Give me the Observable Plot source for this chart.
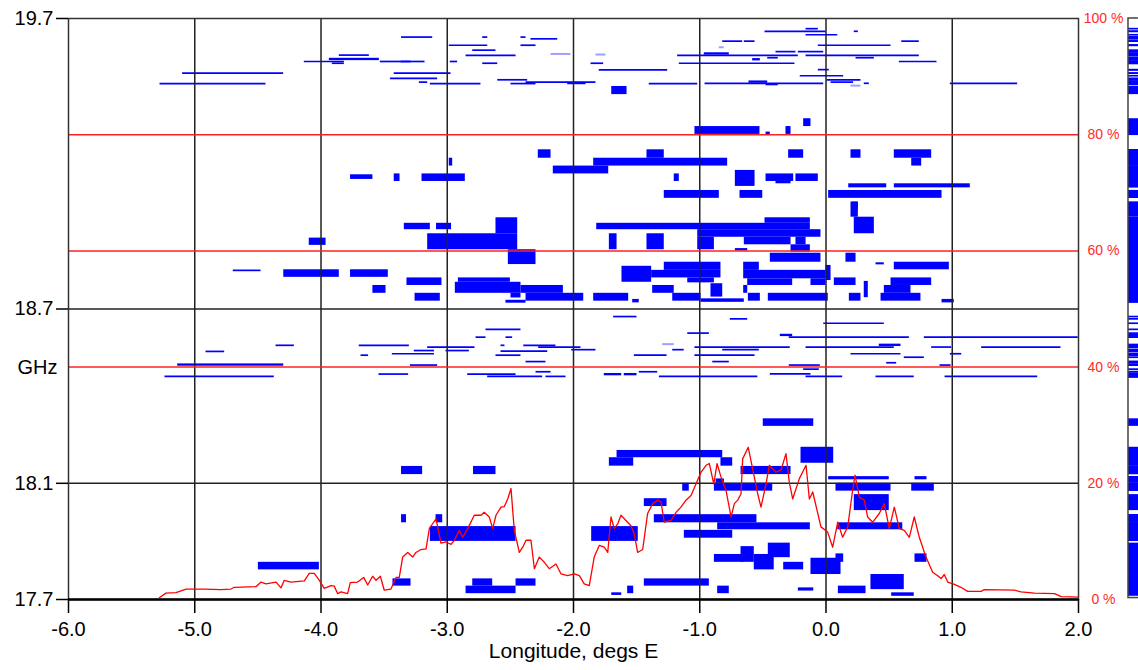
<!DOCTYPE html>
<html>
<head>
<meta charset="utf-8">
<script src="https://cdn.jsdelivr.net/npm/d3@7"></script>
<script src="https://cdn.jsdelivr.net/npm/@observablehq/plot@0.6"></script>
<style>
  html, body { margin: 0; padding: 0; background: #fff; overflow: hidden; }
  #chart { width: 1138px; height: 670px; }
</style>
</head>
<body>
<div id="chart"></div>
<script>
// Longitude ticks (degs E) and frequency ticks (GHz)
const lonTicks = [-6, -5, -4, -3, -2, -1, 0, 1, 2];
const ghzTicks = [17.7, 18.1, 18.7, 19.7];
const pctTicks = [0, 20, 40, 60, 80, 100];
const pctLines = [40, 60, 80];

// Wide carriers: [lon1, lon2, f1 GHz, f2 GHz]
const wideCarriers = [
  [-3.766,-3.589,19.146,19.162],[-3.420,-3.374,19.139,19.165],[-1.697,-1.576,19.438,19.466],
  [-1.038,-0.523,19.301,19.328],[-2.279,-2.178,19.219,19.248],[-1.418,-1.281,19.219,19.248],
  [-1.840,-0.779,19.192,19.219],[-2.160,-1.721,19.165,19.192],[-2.984,-2.957,19.192,19.219],
  [-3.200,-2.857,19.139,19.165],[-1.202,-1.162,19.139,19.165],[-0.718,-0.562,19.122,19.177],
  [-1.281,-0.845,19.081,19.108],[-0.681,-0.501,19.081,19.108],[-0.177,-0.119,19.328,19.355],
  [-0.475,-0.441,19.297,19.309],[-0.317,-0.277,19.301,19.328],[-0.296,-0.177,19.219,19.248],
  [0.198,0.277,19.219,19.248],[0.541,0.837,19.219,19.248],[0.679,0.758,19.192,19.219],
  [-0.475,-0.256,19.139,19.165],[-0.396,-0.277,19.131,19.139],[-0.238,-0.061,19.139,19.165],
  [0.180,0.481,19.117,19.131],[0.541,1.143,19.117,19.131],[0.021,0.919,19.081,19.108],
  [0.204,0.256,19.039,19.068],
  [-4.093,-3.960,18.919,18.944],[-3.340,-3.134,18.973,18.995],[-4.295,-3.855,18.809,18.835],
  [-3.766,-3.467,18.809,18.835],[-3.589,-3.485,18.754,18.781],[-3.319,-3.042,18.781,18.807],
  [-3.085,-2.966,18.973,18.995],[-2.614,-2.442,18.959,19.014],[-3.155,-2.442,18.904,18.959],
  [-2.516,-2.297,18.853,18.904],[-1.816,-0.124,18.973,18.995],[-0.483,-0.124,18.995,19.014],
  [-1.016,-0.040,18.947,18.973],[-0.647,-0.277,18.921,18.947],[-0.238,-0.158,18.921,18.947],
  [-0.277,-0.124,18.896,18.921],[-1.016,-0.884,18.904,18.947],[-1.716,-1.655,18.904,18.959],
  [-1.418,-1.281,18.904,18.959],[-0.718,-0.620,18.900,18.908],[-1.616,-1.381,18.792,18.847],
  [-1.381,-0.832,18.807,18.833],[-1.281,-0.832,18.833,18.861],[-1.095,-0.884,18.790,18.807],
  [-1.373,-1.202,18.754,18.781],[-1.214,-0.990,18.727,18.754],[-0.990,-0.647,18.723,18.735],
  [-0.911,-0.818,18.741,18.787],[-0.652,-0.528,18.833,18.861],[-1.840,-1.563,18.727,18.754],
  [-1.531,-1.479,18.721,18.733],[-3.255,-3.055,18.727,18.754],[-2.912,-2.500,18.792,18.807],
  [-2.936,-2.416,18.754,18.792],[-2.495,-2.416,18.738,18.754],[-2.416,-2.080,18.754,18.781],
  [-2.376,-1.919,18.727,18.754],[-2.535,-2.376,18.720,18.730],[0.198,0.256,19.016,19.068],
  [0.224,0.383,18.959,19.016],[0.158,0.238,18.861,18.892],[-0.441,-0.040,18.861,18.892],
  [0.396,0.462,18.852,18.859],[0.541,0.977,18.835,18.861],[-0.652,0.000,18.804,18.833],
  [0.000,0.040,18.798,18.850],[-0.620,-0.264,18.781,18.804],[-0.119,0.000,18.781,18.804],
  [0.066,0.238,18.781,18.807],[0.303,0.335,18.739,18.795],[0.515,0.837,18.781,18.807],
  [0.462,0.673,18.754,18.781],[0.436,0.752,18.727,18.754],[-0.615,-0.520,18.727,18.754],
  [-0.457,0.018,18.727,18.754],[0.185,0.277,18.727,18.754],[0.919,1.016,18.721,18.733],
  [-0.652,-0.620,18.754,18.781],
  [-3.362,-3.195,18.130,18.158],[-3.362,-3.323,17.964,17.992],[-4.496,-4.013,17.802,17.828],
  [-3.430,-3.287,17.746,17.771],[-2.792,-2.614,18.130,18.158],[-3.089,-3.036,17.964,17.992],
  [-3.134,-2.455,17.900,17.951],[-2.798,-2.640,17.746,17.771],[-2.851,-2.455,17.720,17.746],
  [-2.455,-2.297,17.746,17.771],[-1.856,-1.487,17.900,17.951],[-1.655,-0.818,18.188,18.213],
  [-1.716,-1.523,18.159,18.188],[-0.832,-0.739,18.159,18.188],[-1.135,-1.083,18.073,18.100],
  [-1.439,-1.259,18.020,18.047],[-1.360,-0.547,17.964,17.992],[-1.122,-0.739,17.911,17.938],
  [-0.858,-0.124,17.940,17.964],[-0.884,-0.652,17.828,17.855],[-1.439,-0.924,17.746,17.771],
  [-1.571,-1.523,17.720,17.746],[-1.697,-1.618,17.714,17.723],[-0.858,-0.766,17.720,17.746],
  [-0.497,-0.097,18.296,18.322],[-0.198,0.061,18.169,18.224],[-0.673,-0.277,18.130,18.158],
  [-0.884,-0.422,18.073,18.100],[-0.871,-0.805,18.100,18.115],[0.021,0.501,18.112,18.123],
  [0.705,0.800,18.112,18.123],[0.079,0.515,18.073,18.100],[0.679,0.858,18.073,18.100],
  [0.224,0.501,18.006,18.061],[0.093,0.608,17.940,17.964],[-0.673,-0.568,17.828,17.882],
  [-0.457,-0.283,17.844,17.894],[-0.568,-0.410,17.802,17.855],[-0.335,-0.177,17.802,17.828],
  [-0.119,0.119,17.786,17.842],[0.079,0.140,17.828,17.857],[0.705,0.800,17.828,17.857],
  [-0.219,-0.097,17.729,17.740],[0.098,0.317,17.720,17.746],[0.356,0.620,17.734,17.786],
  [0.520,0.699,17.711,17.723],
  // thicker narrow carriers
  [-3.934,-3.538,19.555,19.563],[-2.046,-1.901,19.472,19.480],[-0.964,-0.766,19.574,19.582],
  [-0.581,-0.520,19.554,19.562],[-0.610,-0.462,19.477,19.485],[-5.135,-4.295,18.503,18.511],
  [-1.756,-1.618,18.470,18.478],[-1.598,-1.497,18.470,18.478],[-0.362,-0.264,18.605,18.613],
  [0.422,0.594,18.571,18.579]
];

// Narrow carriers: [lon1, lon2, f GHz]
const narrowCarriers = [
  [-5.096,-4.296,19.512],[-5.275,-4.436,19.476],[-4.132,-3.815,19.552],[-3.910,-3.815,19.546],
  [-3.855,-3.617,19.574],[-3.530,-3.287,19.552],[-3.362,-3.115,19.636],[-3.420,-2.970,19.512],
  [-3.450,-3.076,19.494],[-2.719,-2.679,19.636],[-2.416,-2.376,19.636],[-2.337,-2.125,19.630],
  [-2.984,-2.679,19.608],[-2.416,-2.297,19.608],[-2.798,-2.614,19.591],[-2.851,-2.455,19.573],
  [-3.366,-3.176,19.552],[-2.976,-2.918,19.552],[-2.719,-2.600,19.546],[-3.221,-3.155,19.481],
  [-3.134,-2.733,19.476],[-2.600,-2.363,19.489],[-2.495,-2.297,19.476],[-2.376,-1.822,19.481],
  [-1.861,-1.761,19.546],[-1.796,-1.254,19.523],[-1.400,-1.016,19.476],[-0.958,-0.018,19.477],
  [-1.175,-0.219,19.573],[-0.158,0.739,19.573],[-1.162,-0.246,19.546],[-0.818,-0.660,19.622],
  [-0.647,-0.562,19.622],[-0.158,-0.061,19.665],[-0.483,0.000,19.656],[0.224,0.256,19.656],
  [-0.158,0.093,19.644],[0.600,0.739,19.622],[-0.061,0.515,19.608],[-0.396,-0.238,19.586],
  [-0.219,-0.018,19.586],[-0.462,-0.378,19.565],[0.238,0.383,19.565],[0.581,0.879,19.552],
  [-0.061,0.026,19.524],[-0.204,0.140,19.503],[0.008,0.277,19.489],[-0.475,-0.378,19.473],
  [0.040,0.219,19.481],[0.303,0.343,19.477],[0.985,1.518,19.477],[-4.695,-4.475,18.833],
  [-4.356,-4.211,18.575],[-4.911,-4.763,18.554],[-5.236,-4.370,18.468],[-3.697,-3.300,18.575],
  [-3.683,-3.623,18.541],[-3.435,-3.101,18.546],[-3.541,-3.306,18.476],[-1.682,-1.497,18.674],
  [-0.758,-0.620,18.666],[-2.693,-2.416,18.630],[-1.095,-0.924,18.617],[-2.772,-2.693,18.603],
  [-2.535,-2.482,18.603],[-3.155,-2.780,18.569],[-2.574,-2.543,18.575],[-2.394,-2.139,18.575],
  [-2.276,-1.941,18.569],[-3.261,-3.101,18.557],[-3.010,-2.825,18.557],[-2.574,-2.204,18.555],
  [-2.014,-1.822,18.560],[-1.214,-1.123,18.560],[-1.038,-0.283,18.569],[-0.818,-0.528,18.560],
  [-2.614,-2.416,18.541],[-1.518,-1.259,18.541],[-1.038,-0.562,18.541],[-2.376,-2.218,18.519],
  [-0.897,-0.766,18.519],[-3.292,-3.076,18.507],[-2.838,-2.455,18.476],[-2.680,-2.244,18.468],
  [-2.297,-2.178,18.484],[-2.218,-2.059,18.468],[-1.479,-1.333,18.484],[-1.320,-0.540,18.468],
  [-0.018,0.462,18.651],[-0.291,0.660,18.603],[0.779,1.998,18.603],[-0.158,0.541,18.569],
  [0.837,0.996,18.569],[1.233,1.861,18.569],[0.198,0.594,18.546],[0.620,0.779,18.534],
  [0.985,1.075,18.546],[0.481,0.560,18.515],[-0.291,-0.045,18.507],[-0.177,-0.053,18.493],
  [0.903,0.990,18.507],[-0.441,-0.119,18.477],[-0.158,0.132,18.468],[0.396,0.699,18.468],
  [0.943,1.677,18.468]
];

// Faint (partial) carriers: [lon1, lon2, f GHz]
const faintCarriers = [
  [-2.178,-2.020,19.578],[-1.822,-1.743,19.576],[-0.845,-0.806,19.601],[0.198,0.277,19.469],
  [-1.293,-1.202,18.579]
];

// Occupancy curve: longitude (degs E) and percent
const curveLon = [-5.281,-5.228,-5.149,-5.069,-4.924,-4.792,-4.713,-4.687,-4.515,-4.475,
  -4.436,-4.356,-4.317,-4.291,-4.238,-4.132,-4.093,-4.053,-4.013,-3.974,
  -3.921,-3.895,-3.868,-3.842,-3.789,-3.768,-3.710,-3.662,-3.630,-3.591,
  -3.564,-3.530,-3.499,-3.446,-3.406,-3.380,-3.353,-3.313,-3.274,-3.248,
  -3.208,-3.168,-3.142,-3.089,-3.050,-3.010,-2.970,-2.944,-2.905,-2.878,
  -2.838,-2.786,-2.733,-2.707,-2.667,-2.640,-2.614,-2.574,-2.548,-2.521,
  -2.495,-2.469,-2.429,-2.402,-2.376,-2.337,-2.310,-2.271,-2.231,-2.192,
  -2.139,-2.099,-2.046,-1.994,-1.954,-1.915,-1.875,-1.836,-1.796,-1.756,
  -1.729,-1.703,-1.677,-1.650,-1.624,-1.598,-1.545,-1.519,-1.492,-1.452,
  -1.413,-1.373,-1.333,-1.307,-1.281,-1.228,-1.188,-1.149,-1.109,-1.069,
  -1.030,-0.990,-0.950,-0.924,-0.889,-0.863,-0.832,-0.792,-0.752,-0.726,
  -0.699,-0.673,-0.660,-0.616,-0.581,-0.541,-0.515,-0.475,-0.449,-0.396,
  -0.356,-0.317,-0.291,-0.264,-0.211,-0.158,-0.132,-0.105,-0.040,0.013,
  0.053,0.093,0.132,0.172,0.211,0.230,0.264,0.303,0.330,0.370,
  0.422,0.462,0.501,0.541,0.581,0.620,0.660,0.699,0.739,0.792,
  0.845,0.885,0.911,0.937,0.964,1.017,1.069,1.122,1.228,1.254,
  1.492,1.545,1.651,1.810,1.863,1.996];
const curvePct = [0.3,1.1,1.2,1.8,1.8,1.7,1.8,2.1,2.2,3.0,
  2.7,3.0,2.0,3.3,3.0,3.2,4.5,4.5,3.3,1.9,
  2.4,2.3,1.0,1.3,1.0,2.9,3.0,3.8,2.5,4.0,
  3.3,4.0,1.6,1.8,3.8,3.8,7.3,8.1,7.3,8.1,
  8.6,8.7,12.2,13.9,9.7,9.9,9.5,10.2,11.9,10.7,
  12.2,14.5,14.5,15.0,14.2,12.2,14.5,15.9,16.0,17.3,
  19.1,11.9,8.1,9.0,10.2,10.2,5.3,7.3,6.4,5.3,
  6.1,4.4,4.1,4.4,4.1,2.7,2.4,7.3,9.3,9.0,
  8.1,14.2,12.2,13.0,14.5,13.9,12.7,11.3,8.1,8.6,
  14.8,16.5,17.1,16.8,13.3,13.6,15.0,15.9,17.1,17.9,
  19.9,21.9,23.1,23.4,19.9,23.4,21.1,18.8,14.2,16.5,
  17.1,18.2,24.2,26.2,22.5,18.2,15.9,19.9,23.1,21.9,
  22.3,25.1,20.2,17.3,20.8,23.1,17.3,18.5,12.5,11.6,
  9.0,13.3,10.7,12.5,18.8,21.4,17.6,17.1,14.2,13.3,
  14.8,16.5,12.2,15.9,12.2,11.9,10.7,14.2,10.7,7.3,
  4.7,4.1,3.6,4.3,3.0,2.6,2.1,1.4,1.4,1.7,
  1.6,1.3,1.1,1.0,0.5,0.4];

// ---- build chart ----
const F0 = 17.7, F1 = 19.7;
const pctToGHz = p => F0 + (F1 - F0) * p / 100;
const curve = curveLon.map((lon, i) => ({lon, f: pctToGHz(curvePct[i])}));
const STRIP_X1 = 2.396, STRIP_X2 = 2.48; // occupancy strip to the right of the frame
const BLUE = "#0000ff";
const font = "'Liberation Sans', Arial, Helvetica, sans-serif";

const chart = Plot.plot({
  width: 1138,
  height: 670,
  marginTop: 18,
  marginBottom: 71,
  marginLeft: 68,
  marginRight: 60,
  style: {fontFamily: font, fontSize: "20px", color: "#000", background: "#fff", overflow: "visible"},
  x: {domain: [-6, 2]},
  y: {domain: [F0, F1]},
  marks: [
    // carriers
    Plot.rect(wideCarriers, {x1: d => d[0], x2: d => d[1], y1: d => d[2], y2: d => d[3], fill: BLUE}),
    Plot.ruleY(narrowCarriers, {x1: d => d[0], x2: d => d[1], y: d => d[2], stroke: BLUE, strokeWidth: 1.7}),
    Plot.ruleY(faintCarriers, {x1: d => d[0], x2: d => d[1], y: d => d[2], stroke: "#a0a0ff", strokeWidth: 2}),
    // occupancy strip (frequency union of all carriers)
    Plot.rect(wideCarriers, {x1: () => STRIP_X1, x2: () => STRIP_X2, y1: d => d[2], y2: d => d[3], fill: BLUE}),
    Plot.ruleY(narrowCarriers, {x1: () => STRIP_X1, x2: () => STRIP_X2, y: d => d[2], stroke: BLUE, strokeWidth: 1.7}),
    Plot.rect([0], {x1: () => STRIP_X1, x2: () => STRIP_X2 + 0.2, y1: () => F0 + 0.005, y2: () => F1, fill: "none", stroke: "#444", strokeWidth: 1.5}),
    // grid
    Plot.ruleX(lonTicks.filter(d => d > -6 && d < 2), {stroke: "#222", strokeWidth: 1.5}),
    Plot.ruleY(pctLines.map(pctToGHz), {stroke: "#ff2020", strokeWidth: 1.5}),
    Plot.ruleY([18.1, 18.7], {stroke: "#222", strokeWidth: 1.5}),
    Plot.frame({stroke: "#333", strokeWidth: 1.5}),
    Plot.ruleY([F0], {stroke: "#000", strokeWidth: 2.5}),
    // axes
    Plot.axisX({ticks: lonTicks, tickFormat: d => d.toFixed(1), tickSize: 14, tickPadding: 8,
      fontSize: 20, label: null, stroke: "#000", strokeWidth: 1.5}),
    Plot.axisY({ticks: ghzTicks, tickFormat: d => d.toFixed(1), tickSize: 12, tickPadding: 3,
      fontSize: 20, label: null, stroke: "#000", strokeWidth: 1.5}),
    Plot.text(["GHz"], {x: () => -6, y: () => 18.5, dx: -11, textAnchor: "end", fontSize: 20}),
    Plot.text(["Longitude, degs E"], {frameAnchor: "bottom", dy: 58, fontSize: 21}),
    Plot.text(pctTicks, {x: () => 2, y: d => pctToGHz(d), text: d => `${d} %`, dx: 25,
      fill: "#ff2a2a", fontSize: 14}),
    // occupancy curve
    Plot.line(curve, {x: "lon", y: "f", stroke: "#ff0000", strokeWidth: 1.3})
  ]
});
document.getElementById("chart").appendChild(chart);
</script>
</body>
</html>
